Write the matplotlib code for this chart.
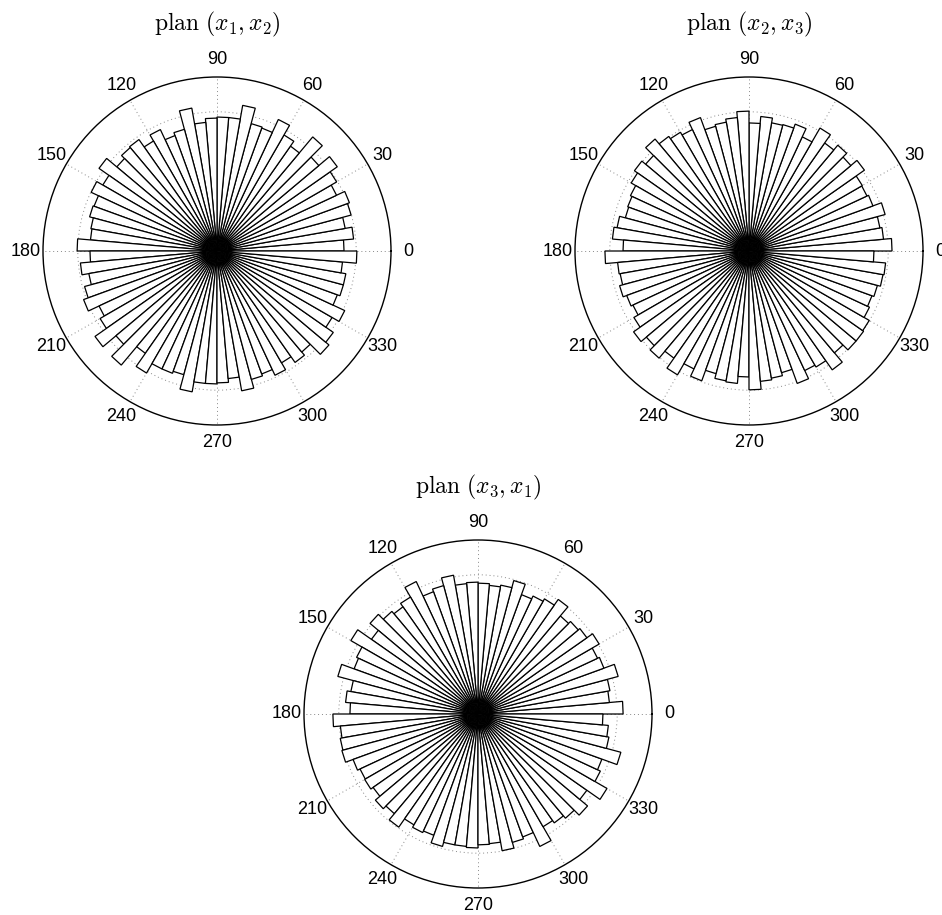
import numpy as np
import matplotlib.pyplot as plt

plt.rcParams['mathtext.fontset'] = 'cm'

# rose histograms, 72 bins of 5 degrees, bin k covers [5k, 5k+5)
bin_deg = 5
rmax = 50
rings = [10, 20, 30, 40]

plan_x1x2 = [36.5, 39.4, 37.4, 39.9, 40.5, 37.9, 39.7, 42.2, 38.2, 42.8, 36.8, 38.5, 41.7, 37.6, 37.9, 42.5, 38.5, 38.5,
             38.2, 37.1, 41.7, 36.2, 35.3, 38.5, 36.5, 39.1, 38.8, 37.6, 41.4, 37.9, 39.9, 37.6, 37.9, 36.8, 36.5, 40.2,
             36.5, 39.4, 37.4, 39.4, 40.8, 37.4, 38.8, 42.8, 37.9, 42.8, 35.9, 40.5, 37.4, 37.4, 36.8, 41.1, 38.2, 38.2,
             37.9, 36.8, 40.8, 38.2, 37.6, 39.4, 37.1, 39.1, 37.9, 42.0, 40.8, 38.2, 40.5, 36.8, 37.6, 37.6, 36.2, 40.2]

plan_x2x3 = [41.1, 38.8, 38.2, 40.5, 37.9, 37.4, 37.6, 40.5, 38.2, 39.7, 37.9, 40.8, 36.2, 38.8, 37.6, 37.4, 38.8, 36.8,
             40.2, 38.5, 37.6, 37.1, 40.8, 38.5, 39.4, 40.2, 42.0, 38.8, 40.2, 39.1, 37.6, 37.1, 36.8, 38.5, 39.4, 36.2,
             41.4, 37.9, 37.6, 38.5, 37.4, 36.8, 38.2, 40.5, 38.5, 40.2, 37.6, 41.1, 37.4, 39.7, 36.5, 37.9, 38.2, 36.2,
             39.9, 37.6, 37.1, 36.2, 40.5, 37.9, 38.5, 41.7, 38.2, 40.2, 40.2, 39.9, 38.2, 37.6, 38.2, 39.1, 39.4, 35.9]

plan_x3x1 = [41.7, 37.9, 38.5, 41.7, 38.5, 37.9, 40.2, 38.2, 37.6, 36.8, 40.2, 38.2, 37.4, 36.5, 39.7, 37.6, 37.1, 37.6,
             37.9, 37.6, 40.5, 38.2, 37.4, 42.0, 38.8, 37.6, 38.5, 40.5, 37.4, 42.2, 38.5, 37.9, 41.7, 37.1, 38.2, 36.8,
             41.7, 39.7, 40.2, 40.5, 38.2, 37.4, 37.6, 36.8, 38.5, 37.4, 39.7, 36.8, 37.6, 37.1, 39.4, 38.2, 38.2, 38.5,
             37.6, 37.4, 39.9, 38.2, 37.6, 42.0, 37.4, 38.2, 39.1, 41.1, 38.2, 42.8, 38.8, 37.9, 42.5, 38.2, 37.6, 35.9]

titles = [r'$\mathrm{plan}\ (x_1, x_2)$', r'$\mathrm{plan}\ (x_2, x_3)$', r'$\mathrm{plan}\ (x_3, x_1)$']
angle_labels = [str(a) for a in range(0, 360, 30)]

W, H = 942, 915
fig = plt.figure(figsize=(W / 100, H / 100), dpi=100)

# (center x, center y) in pixels, radius of outer circle
centers = [(217, 251), (749, 251), (478, 714)]
R = 174


def rose(ax, counts, title):
    edges = np.deg2rad(np.arange(0, 360 + bin_deg, bin_deg))
    for i, c in enumerate(counts):
        ax.fill([0, edges[i], edges[i + 1], 0], [0, c, c, 0],
                facecolor='white', edgecolor='black', lw=0.9, zorder=2)
    ax.set_ylim(0, rmax)
    ax.set_yticks(rings)
    ax.set_yticklabels([])
    ax.set_xticks(np.deg2rad(np.arange(0, 360, 30)))
    ax.set_xticklabels([])
    ax.set_axisbelow(True)
    ax.grid(True, color='#888888', linestyle=(0, (1, 3)), lw=0.7)
    ax.spines['polar'].set_linewidth(1.0)
    for a, lab in zip(range(0, 360, 30), angle_labels):
        ax.text(np.deg2rad(a), rmax * 1.1, lab, ha='center', va='center',
                fontsize=13, family='Liberation Sans')
    ax.text(0.5, 1.15, title, transform=ax.transAxes, ha='center', va='center', fontsize=17)


for (cx, cy), data, title in zip(centers, [plan_x1x2, plan_x2x3, plan_x3x1], titles):
    left = (cx - R) / W
    bottom = 1 - (cy + R) / H
    ax = fig.add_axes([left, bottom, 2 * R / W, 2 * R / H], projection='polar')
    rose(ax, data, title)

fig.savefig('out.png', dpi=100)
